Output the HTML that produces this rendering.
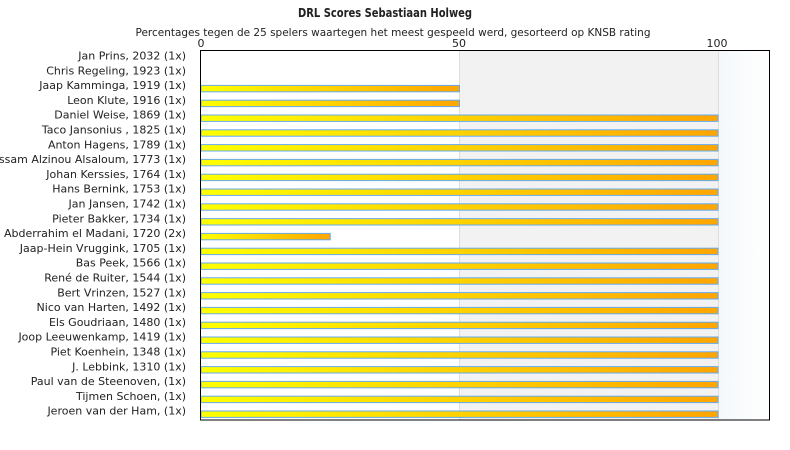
<!DOCTYPE html>
<html><head><meta charset="utf-8"><style>body{margin:0;background:#fff}svg{display:block}text{font-family:"DejaVu Sans","Liberation Sans",sans-serif;fill:#222}</style></head><body>
<svg width="790" height="450" viewBox="0 0 790 450" xmlns="http://www.w3.org/2000/svg">
<defs>
<linearGradient id="g" x1="0" y1="0" x2="1" y2="0"><stop offset="0" stop-color="#ffff00"/><stop offset="1" stop-color="#ffa500"/></linearGradient>
<linearGradient id="b" x1="0" y1="0" x2="1" y2="0"><stop offset="0" stop-color="#f4f8fb"/><stop offset="1" stop-color="#ffffff"/></linearGradient>
</defs>
<text x="385" y="17" text-anchor="middle" font-size="12" font-weight="bold" textLength="174" lengthAdjust="spacingAndGlyphs">DRL Scores Sebastiaan Holweg</text>
<text x="393" y="36" text-anchor="middle" font-size="11" textLength="515" lengthAdjust="spacingAndGlyphs">Percentages tegen de 25 spelers waartegen het meest gespeeld werd, gesorteerd op KNSB rating</text>
<text x="201" y="47" text-anchor="middle" font-size="11">0</text>
<text x="459" y="47" text-anchor="middle" font-size="11">50</text>
<text x="717" y="47" text-anchor="middle" font-size="11">100</text>
<rect x="459" y="50" width="259" height="370" fill="#f2f2f2"/>
<rect x="718" y="50" width="52" height="370" fill="url(#b)"/>
<line x1="459.5" y1="50" x2="459.5" y2="420" stroke="#ddd"/>
<line x1="718.5" y1="50" x2="718.5" y2="420" stroke="#ddd"/>
<g font-size="11" text-anchor="end">
<text x="186" y="59.5">Jan Prins, 2032 (1x)</text>
<text x="186" y="74.3">Chris Regeling, 1923 (1x)</text>
<text x="186" y="89.1">Jaap Kamminga, 1919 (1x)</text>
<text x="186" y="103.9">Leon Klute, 1916 (1x)</text>
<text x="186" y="118.7">Daniel Weise, 1869 (1x)</text>
<text x="186" y="133.5">Taco Jansonius , 1825 (1x)</text>
<text x="186" y="148.3">Anton Hagens, 1789 (1x)</text>
<text x="186" y="163.1">Hussam Alzinou Alsaloum, 1773 (1x)</text>
<text x="186" y="177.9">Johan Kerssies, 1764 (1x)</text>
<text x="186" y="192.7">Hans Bernink, 1753 (1x)</text>
<text x="186" y="207.5">Jan Jansen, 1742 (1x)</text>
<text x="186" y="222.3">Pieter Bakker, 1734 (1x)</text>
<text x="186" y="237.1">Abderrahim el Madani, 1720 (2x)</text>
<text x="186" y="251.9">Jaap-Hein Vruggink, 1705 (1x)</text>
<text x="186" y="266.7">Bas Peek, 1566 (1x)</text>
<text x="186" y="281.5">René de Ruiter, 1544 (1x)</text>
<text x="186" y="296.3">Bert Vrinzen, 1527 (1x)</text>
<text x="186" y="311.1">Nico van Harten, 1492 (1x)</text>
<text x="186" y="325.9">Els Goudriaan, 1480 (1x)</text>
<text x="186" y="340.7">Joop Leeuwenkamp, 1419 (1x)</text>
<text x="186" y="355.5">Piet Koenhein, 1348 (1x)</text>
<text x="186" y="370.3">J. Lebbink, 1310 (1x)</text>
<text x="186" y="385.1">Paul van de Steenoven,  (1x)</text>
<text x="186" y="399.9">Tijmen Schoen,  (1x)</text>
<text x="186" y="414.7">Jeroen van der Ham,  (1x)</text>
</g>
<g fill="url(#g)" stroke="#66aaee" stroke-width="1">
<rect x="201" y="85.4" width="258.5" height="6.4"/>
<rect x="201" y="100.2" width="258.5" height="6.4"/>
<rect x="201" y="115" width="517" height="6.4"/>
<rect x="201" y="129.8" width="517" height="6.4"/>
<rect x="201" y="144.6" width="517" height="6.4"/>
<rect x="201" y="159.4" width="517" height="6.4"/>
<rect x="201" y="174.2" width="517" height="6.4"/>
<rect x="201" y="189" width="517" height="6.4"/>
<rect x="201" y="203.8" width="517" height="6.4"/>
<rect x="201" y="218.6" width="517" height="6.4"/>
<rect x="201" y="233.4" width="129.25" height="6.4"/>
<rect x="201" y="248.2" width="517" height="6.4"/>
<rect x="201" y="263" width="517" height="6.4"/>
<rect x="201" y="277.8" width="517" height="6.4"/>
<rect x="201" y="292.6" width="517" height="6.4"/>
<rect x="201" y="307.4" width="517" height="6.4"/>
<rect x="201" y="322.2" width="517" height="6.4"/>
<rect x="201" y="337" width="517" height="6.4"/>
<rect x="201" y="351.8" width="517" height="6.4"/>
<rect x="201" y="366.6" width="517" height="6.4"/>
<rect x="201" y="381.4" width="517" height="6.4"/>
<rect x="201" y="396.2" width="517" height="6.4"/>
<rect x="201" y="411" width="517" height="6.4"/>
</g>
<rect x="200.5" y="50.5" width="569" height="369.5" fill="none" stroke="#000"/>
</svg>
</body></html>
